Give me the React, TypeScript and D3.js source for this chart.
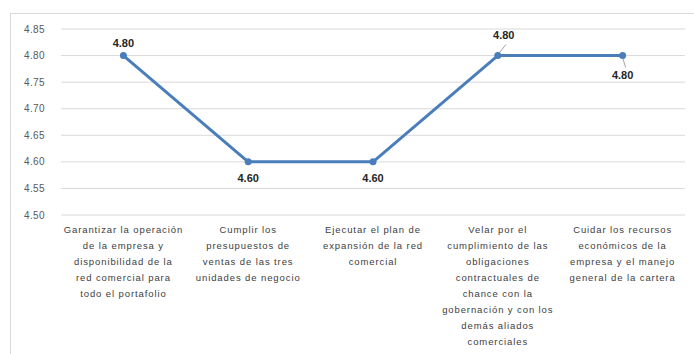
import React from "react";
import * as d3 from "d3";

const categories: string[][] = [
  ["Garantizar la operación", "de la empresa y", "disponibilidad de la", "red comercial para", "todo el portafolio"],
  ["Cumplir los", "presupuestos de", "ventas de las tres", "unidades de negocio"],
  ["Ejecutar el plan de", "expansión de la red", "comercial"],
  ["Velar por el", "cumplimiento de las", "obligaciones", "contractuales de", "chance con la", "gobernación y con los", "demás aliados", "comerciales"],
  ["Cuidar los recursos", "económicos de la", "empresa y el manejo", "general de la cartera"],
];
const values: number[] = [4.8, 4.6, 4.6, 4.8, 4.8];
const yTicks: number[] = [4.5, 4.55, 4.6, 4.65, 4.7, 4.75, 4.8, 4.85];
const labelPos: string[] = ["above", "below", "below", "aboveLeader", "belowLeader"];

export default function App() {
  const W = 694, H = 354;
  const left = 61, right = 685, top = 29, bottom = 215;
  const x = d3.scaleBand<number>().domain(values.map((_, i) => i)).range([left, right]);
  const y = d3.scaleLinear().domain([4.5, 4.85]).range([bottom, top]);
  const line = d3.line<number>().x((_, i) => x(i)! + x.bandwidth() / 2).y((d) => y(d));
  const color = "#4A7EBB";
  return (
    <svg width={W} height={H} style={{ position: "absolute", left: 0, top: 0, background: "#fff" }}>
      <rect x={10.5} y={13.5} width={700} height={360} fill="#fff" stroke="#d9d9d9" />
      {yTicks.map((t) => (
        <g key={t}>
          <line x1={left} x2={right} y1={y(t)} y2={y(t)} stroke="#d9d9d9" strokeWidth={1} />
          <text x={45} y={y(t)} dy="0.35em" textAnchor="end" fontFamily="Liberation Sans, Arial, sans-serif" fontSize={10} letterSpacing={0.4} fill="#595959">
            {t.toFixed(2)}
          </text>
        </g>
      ))}
      <path d={line(values) || ""} fill="none" stroke={color} strokeWidth={3} strokeLinejoin="round" />
      {values.map((v, i) => {
        const cx = x(i)! + x.bandwidth() / 2;
        const cy = y(v);
        const pos = labelPos[i];
        let lx = cx, ly = cy - 9;
        let leader: React.ReactNode = null;
        if (pos === "below") ly = cy + 20;
        if (pos === "aboveLeader") {
          lx = cx + 6;
          ly = cy - 17;
          leader = <line x1={cx + 1} y1={cy - 2} x2={cx + 8} y2={cy - 11} stroke="#a6a6a6" strokeWidth={1} />;
        }
        if (pos === "belowLeader") {
          ly = cy + 23;
          leader = <line x1={cx} y1={cy + 2} x2={cx + 3} y2={cy + 12} stroke="#a6a6a6" strokeWidth={1} />;
        }
        return (
          <g key={i}>
            {leader}
            <circle cx={cx} cy={cy} r={3.5} fill={color} />
            <text x={lx} y={ly} textAnchor="middle" fontFamily="Liberation Sans, Arial, sans-serif" fontSize={11} fontWeight="bold" fill="#262626">
              {v.toFixed(2)}
            </text>
          </g>
        );
      })}
      {categories.map((lines, i) => (
        <text key={i} textAnchor="middle" fontFamily="Liberation Sans, Arial, sans-serif" fontSize={9.5} letterSpacing={0.9} fill="#404040">
          {lines.map((l, j) => (
            <tspan key={j} x={x(i)! + x.bandwidth() / 2} y={233 + j * 16}>
              {l}
            </tspan>
          ))}
        </text>
      ))}
    </svg>
  );
}
